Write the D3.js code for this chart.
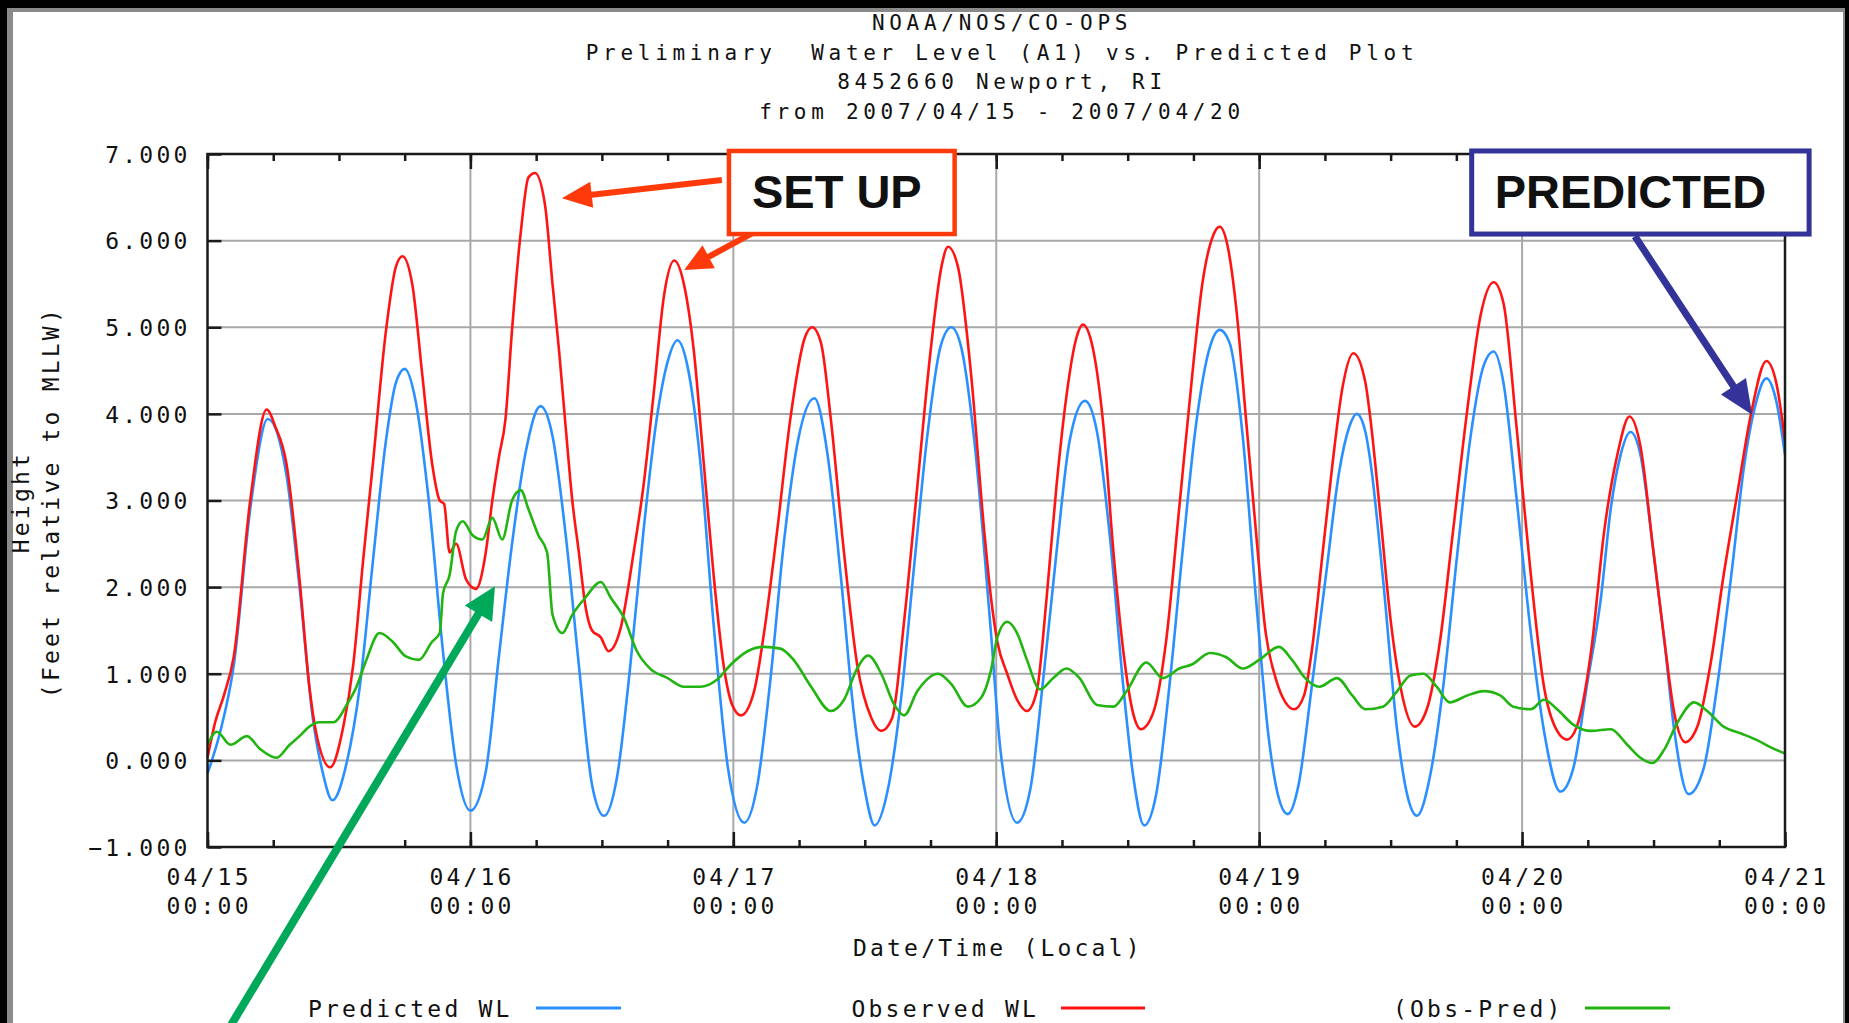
<!DOCTYPE html>
<html>
<head>
<meta charset="utf-8">
<script src="https://cdn.jsdelivr.net/npm/d3@7"></script>
<style>
  html, body { margin: 0; padding: 0; background: #000; overflow: hidden; }
  text { font-family: "DejaVu Sans Mono", "Liberation Mono", monospace; fill: #111; }
</style>
</head>
<body>
<div id="chart"></div>
<script>
// chart text
const titleLines = [
    "NOAA/NOS/CO-OPS",
    "Preliminary  Water Level (A1) vs. Predicted Plot",
    "8452660 Newport, RI",
    "from 2007/04/15 - 2007/04/20"
];
const yLabelLines = ["Height", "(Feet relative to MLLW)"];
const xLabel = "Date/Time (Local)";

// ticks
const yTicks = [-1, 0, 1, 2, 3, 4, 5, 6, 7];
const dayTicks = [0, 24, 48, 72, 96, 120, 144];
const dayLabels = ["04/15", "04/16", "04/17", "04/18", "04/19", "04/20", "04/21"];
const hourLabel = "00:00";

// series: [hours since 04/15 00:00, feet]
const predicted = [[0,-0.15],[1.2,0.35],[2.4,1.1],[3.9,2.9],[5.5,3.94],[7.2,3.3],[8.4,2.0],[9.6,0.5],[10.5,-0.13],[11.4,-0.46],
    [12.7,-0.03],[13.9,0.85],[15.1,2.3],[16.3,3.7],[17.2,4.36],[18.0,4.52],[19.0,4.15],[20.2,3.0],[21.5,1.25],[22.7,-0.05],
    [24.0,-0.58],[25.4,-0.13],[26.6,1.2],[27.8,2.5],[29.0,3.53],[30.4,4.09],[31.5,3.74],[32.7,2.6],[33.9,1.1],[35.1,-0.28],
    [36.2,-0.64],[37.4,-0.18],[38.6,1.1],[39.8,2.65],[41.0,3.94],[42.0,4.6],[42.9,4.85],[43.8,4.56],[45.0,3.43],[46.2,1.57],
    [47.5,-0.08],[49.0,-0.72],[50.2,-0.28],[51.4,0.95],[52.6,2.5],[53.9,3.69],[55.4,4.18],[56.6,3.53],[57.8,2.14],[59.0,0.54],
    [60.0,-0.34],[60.9,-0.75],[62.1,-0.34],[63.3,0.7],[64.5,2.24],[65.7,3.74],[66.9,4.77],[67.9,5.0],[68.8,4.77],[70.0,3.69],
    [71.5,1.5],[72.4,0.1],[73.9,-0.72],[75.1,-0.34],[76.3,0.95],[77.5,2.4],[78.7,3.69],[80.1,4.15],[81.2,3.79],[82.4,2.55],
    [83.6,0.85],[84.5,-0.18],[85.5,-0.75],[86.6,-0.39],[87.8,0.85],[89.0,2.4],[90.2,3.84],[91.5,4.77],[92.4,4.97],[93.3,4.82],
    [94.5,3.74],[95.7,1.88],[96.9,0.23],[97.8,-0.44],[98.6,-0.62],[99.6,-0.28],[100.8,0.85],[102.1,2.14],[103.3,3.33],[104.2,3.84],
    [104.9,4.0],[105.7,3.79],[106.1,3.5],[107.3,2.1],[108.6,0.34],[109.5,-0.39],[110.4,-0.64],[111.6,-0.18],[112.8,0.85],[114.1,2.4],
    [115.3,3.74],[116.5,4.56],[117.4,4.72],[118.3,4.36],[119.5,3.02],[120.8,1.47],[122.0,0.34],[123.5,-0.36],[124.7,-0.08],[125.9,0.85],
    [127.2,1.88],[128.1,2.91],[129.0,3.53],[129.9,3.79],[130.8,3.53],[132.0,2.4],[133.0,1.37],[133.9,0.34],[135.2,-0.39],[136.6,-0.08],
    [137.8,0.85],[139.1,2.14],[140.3,3.43],[141.2,4.05],[142.3,4.41],[143.2,4.15],[144,3.53]];

const observed = [[0,0.03],[0.7,0.44],[1.5,0.75],[2.4,1.2],[3.9,3.0],[5.4,4.05],[6.2,3.85],[7.2,3.43],[8.4,2.09],[9.3,0.85],
    [9.9,0.33],[11.2,-0.08],[12.4,0.39],[13.3,1.1],[14.2,2.3],[15.1,3.43],[16.3,4.97],[17.2,5.7],[17.8,5.82],[18.7,5.49],
    [19.6,4.46],[20.5,3.43],[21.2,3.0],[21.6,2.96],[22.1,2.4],[22.7,2.5],[23.6,2.09],[24.5,1.98],[25.4,2.4],[26.0,3.0],
    [26.6,3.5],[27.2,3.94],[27.8,4.97],[28.6,6.1],[29.3,6.73],[29.9,6.78],[30.8,6.42],[31.5,5.49],[32.1,4.72],[32.7,3.84],
    [33.3,3.0],[33.9,2.4],[34.5,1.78],[35.1,1.5],[35.9,1.42],[36.6,1.26],[37.7,1.52],[38.9,2.4],[39.8,3.17],[40.7,4.2],
    [41.7,5.39],[42.6,5.77],[43.5,5.49],[44.4,4.72],[45.3,3.43],[46.2,2.14],[47.1,1.11],[47.9,0.64],[48.7,0.52],[49.9,0.8],
    [50.8,1.47],[52.0,2.65],[53.2,3.94],[54.5,4.87],[55.2,5.0],[56.0,4.82],[56.9,3.94],[58.1,2.4],[59.3,1.11],[60.6,0.49],
    [61.5,0.34],[62.5,0.49],[63.6,1.62],[64.8,3.17],[66.0,4.72],[67.0,5.7],[67.6,5.93],[68.5,5.7],[69.7,4.46],[70.9,2.65],
    [71.5,1.9],[72.1,1.37],[73.0,1.0],[73.9,0.7],[74.8,0.57],[75.7,0.8],[76.6,1.88],[77.5,3.17],[78.4,4.2],[79.3,4.87],
    [79.9,5.03],[80.8,4.77],[81.8,3.84],[82.7,2.4],[83.6,1.26],[84.5,0.54],[85.2,0.36],[86.3,0.54],[87.5,1.37],[88.7,2.91],
    [89.9,4.46],[90.8,5.49],[91.8,6.06],[92.4,6.16],[93.1,5.95],[93.9,5.23],[94.8,3.94],[95.7,2.65],[96.6,1.47],[97.5,0.95],
    [98.4,0.67],[99.2,0.59],[100.1,0.75],[100.8,1.26],[101.8,2.4],[102.7,3.43],[103.6,4.3],[104.6,4.7],[105.7,4.36],[106.1,4.0],
    [107.0,2.91],[108.0,1.62],[108.9,0.85],[110.2,0.39],[111.3,0.59],[112.5,1.37],[113.7,2.65],[115.0,4.05],[116.2,5.13],[117.4,5.52],
    [118.3,5.28],[119.5,3.84],[120.8,2.14],[122.0,0.85],[123.2,0.34],[124.1,0.24],[125.0,0.39],[126.3,1.26],[127.5,2.65],[128.7,3.53],
    [129.8,3.97],[130.8,3.63],[132.0,2.4],[133.0,1.37],[133.9,0.54],[134.9,0.21],[136.0,0.39],[137.2,1.11],[138.4,2.14],[139.7,3.12],
    [140.9,4.0],[142.3,4.61],[143.2,4.36],[144,3.69]];

const residual = [[0,0.18],[0.85,0.33],[2.1,0.18],[3.6,0.28],[4.8,0.13],[6.3,0.03],[7.5,0.18],[8.4,0.28],[9.3,0.39],[10.2,0.44],
    [11.5,0.44],[12.7,0.64],[13.6,0.85],[14.5,1.16],[15.7,1.47],[16.9,1.37],[18.1,1.2],[19.3,1.16],[20.5,1.37],[21.2,1.47],
    [21.5,1.93],[22.1,2.14],[22.7,2.65],[23.3,2.76],[24.2,2.6],[25.1,2.55],[26.0,2.8],[26.9,2.55],[27.8,3.0],[28.6,3.12],
    [29.3,2.9],[30.2,2.6],[31.0,2.4],[31.5,1.68],[32.4,1.47],[33.3,1.68],[34.5,1.88],[35.9,2.06],[36.8,1.88],[38.0,1.65],
    [39.2,1.26],[40.4,1.06],[42.0,0.95],[43.5,0.85],[45.0,0.85],[46.5,0.93],[47.8,1.11],[49.3,1.26],[50.8,1.31],[52.3,1.29],
    [53.5,1.16],[55.1,0.85],[56.9,0.57],[58.1,0.7],[59.3,1.06],[60.3,1.21],[61.5,1.0],[62.7,0.64],[63.6,0.52],[64.8,0.8],
    [66.7,1.0],[67.9,0.88],[69.4,0.62],[70.6,0.72],[71.5,1.03],[72.1,1.42],[73.0,1.6],[73.9,1.47],[74.8,1.16],[76.0,0.82],
    [77.2,0.95],[78.4,1.06],[79.6,0.95],[81.2,0.64],[82.7,0.62],[83.9,0.8],[85.7,1.13],[87.2,0.95],[88.7,1.06],[89.9,1.11],
    [91.5,1.24],[93.0,1.19],[94.5,1.06],[96.0,1.16],[97.8,1.31],[99.0,1.16],[100.2,0.95],[101.5,0.85],[103.1,0.95],[104.5,0.75],
    [105.7,0.59],[107.3,0.62],[108.6,0.8],[109.8,0.98],[111.0,1.0],[112.2,0.85],[113.4,0.67],[115.0,0.75],[116.5,0.8],[118.0,0.75],
    [119.2,0.62],[120.8,0.59],[122.0,0.7],[123.2,0.59],[124.7,0.41],[126.3,0.34],[128.1,0.36],[129.6,0.18],[130.8,0.03],[131.9,-0.03],
    [133.0,0.13],[134.2,0.44],[135.7,0.67],[136.9,0.57],[138.4,0.39],[140.0,0.31],[141.5,0.23],[142.7,0.15],[144,0.08]];

const seriesNames = ["Predicted WL", "Observed WL", "(Obs-Pred)"];

const width = 1849, height = 1023;
const plot = { left: 207.5, right: 1785, top: 154, bottom: 847 };
const colors = { pred: "#2a90ff", obs: "#ff1414", resid: "#22b512" };

const svg = d3.select("#chart").append("svg")
    .attr("width", width)
    .attr("height", height);

// black / gray frame around the page
svg.append("rect").attr("width", width).attr("height", height).attr("fill", "#000");
svg.append("rect").attr("x", 7).attr("y", 8).attr("width", 1838).attr("height", height).attr("fill", "#8a8a8a");
svg.append("rect").attr("x", 13).attr("y", 12).attr("width", 1830).attr("height", height).attr("fill", "#fff");

const x = d3.scaleLinear().domain([0, 144]).range([plot.left, plot.right]);
const y = d3.scaleLinear().domain([-1, 7]).range([plot.bottom, plot.top]);

function monoText(sel, size, spacing) {
    return sel.style("font-size", size + "px").style("letter-spacing", spacing + "px").style("white-space", "pre");
}

// title
const midX = 1000;
titleLines.forEach((line, i) => {
    monoText(svg.append("text"), 21, 4.7)
        .attr("x", midX + 2)
        .attr("y", 30 + i * 29.5)
        .attr("text-anchor", "middle")
        .text(line);
});

// grid
const grid = svg.append("g");
grid.selectAll(".hgrid")
    .data(yTicks.filter(d => d > -1 && d < 7))
    .join("line")
    .attr("x1", plot.left).attr("x2", plot.right)
    .attr("y1", d => y(d)).attr("y2", d => y(d))
    .attr("stroke", "#a8a8a8").attr("stroke-width", 2);
grid.selectAll(".vgrid")
    .data(dayTicks.slice(1, -1))
    .join("line")
    .attr("x1", d => x(d)).attr("x2", d => x(d))
    .attr("y1", plot.top).attr("y2", plot.bottom)
    .attr("stroke", "#a8a8a8").attr("stroke-width", 2);

// series
const line = d3.line()
    .x(d => x(d[0]))
    .y(d => y(d[1]))
    .curve(d3.curveMonotoneX);

[[predicted, colors.pred], [observed, colors.obs], [residual, colors.resid]].forEach(([data, c]) => {
    svg.append("path")
        .datum(data)
        .attr("fill", "none")
        .attr("stroke", c)
        .attr("stroke-width", 2.6)
        .attr("stroke-linejoin", "round")
        .attr("d", line);
});

// plot border
svg.append("rect")
    .attr("x", plot.left).attr("y", plot.top)
    .attr("width", plot.right - plot.left).attr("height", plot.bottom - plot.top)
    .attr("fill", "none").attr("stroke", "#1a1a1a").attr("stroke-width", 2.5);

// y axis
const yAxis = svg.append("g")
    .attr("transform", `translate(${plot.left},0)`)
    .call(d3.axisLeft(y).tickValues(yTicks).tickFormat(d3.format(".3f"))
        .tickSizeInner(-14).tickSizeOuter(0).tickPadding(17));
yAxis.select(".domain").remove();
yAxis.selectAll(".tick line").attr("stroke", "#1a1a1a").attr("stroke-width", 2.5);
monoText(yAxis.selectAll(".tick text"), 23, 3.2)
    .attr("fill", "#111").attr("dy", "0.36em");
yAxis.attr("font-family", null).attr("font-size", null);

// x axis ticks, bottom and top
const sixHours = d3.range(0, 145, 6);
[[d3.axisBottom, plot.bottom], [d3.axisTop, plot.top]].forEach(([axisFn, ypos]) => {
    const gMinor = svg.append("g").attr("transform", `translate(0,${ypos})`)
        .call(axisFn(x).tickValues(sixHours).tickFormat("").tickSizeInner(-7).tickSizeOuter(0));
    gMinor.select(".domain").remove();
    gMinor.selectAll(".tick line").attr("stroke", "#1a1a1a").attr("stroke-width", 2.5);
    const gMajor = svg.append("g").attr("transform", `translate(0,${ypos})`)
        .call(axisFn(x).tickValues(dayTicks).tickFormat("").tickSizeInner(-15).tickSizeOuter(0));
    gMajor.select(".domain").remove();
    gMajor.selectAll(".tick line").attr("stroke", "#1a1a1a").attr("stroke-width", 2.5);
});

// x tick labels (two lines)
const xLab = svg.append("g");
dayTicks.forEach((t, i) => {
    const txt = monoText(xLab.append("text"), 23, 3.2)
        .attr("text-anchor", "middle");
    txt.append("tspan").attr("x", x(t) + 1.6).attr("y", 885).text(dayLabels[i]);
    txt.append("tspan").attr("x", x(t) + 1.6).attr("y", 914).text(hourLabel);
});

// axis titles
monoText(svg.append("text"), 23, 3.2)
    .attr("x", (plot.left + plot.right) / 2 + 1.6)
    .attr("y", 956)
    .attr("text-anchor", "middle")
    .text(xLabel);

yLabelLines.forEach((lbl, i) => {
    const cx = [21, 51][i];
    monoText(svg.append("text"), 23, 3.2)
        .attr("transform", `translate(${cx + 8.4},${(plot.top + plot.bottom) / 2 + 1.6}) rotate(-90)`)
        .attr("text-anchor", "middle")
        .text(lbl);
});

// legend
const legendX = [308, 851.5, 1393];
const legendLine = [[536, 621], [1061, 1145], [1585, 1670]];
const legendColors = [colors.pred, colors.obs, colors.resid];
seriesNames.forEach((name, i) => {
    monoText(svg.append("text"), 23, 3.2)
        .attr("x", legendX[i]).attr("y", 1017)
        .text(name);
    svg.append("line")
        .attr("x1", legendLine[i][0]).attr("x2", legendLine[i][1])
        .attr("y1", 1008).attr("y2", 1008)
        .attr("stroke", legendColors[i]).attr("stroke-width", 3);
});

// annotations, placed in data space (hours, feet)
function arrow(g, from, to, color, w, headLen, headW) {
    const p0 = [x(from[0]), y(from[1])], p1 = [x(to[0]), y(to[1])];
    const dx = p1[0] - p0[0], dy = p1[1] - p0[1];
    const len = Math.hypot(dx, dy);
    const ux = dx / len, uy = dy / len;
    const bx = p1[0] - ux * headLen, by = p1[1] - uy * headLen;
    g.append("line")
        .attr("x1", p0[0]).attr("y1", p0[1])
        .attr("x2", bx + ux * 2).attr("y2", by + uy * 2)
        .attr("stroke", color).attr("stroke-width", w);
    g.append("polygon")
        .attr("points", [p1, [bx - uy * headW / 2, by + ux * headW / 2], [bx + uy * headW / 2, by - ux * headW / 2]]
            .map(p => p.join(",")).join(" "))
        .attr("fill", color);
}

function callout(g, label, box, textAt, color, strokeW) {
    g.append("rect")
        .attr("x", x(box[0])).attr("y", y(box[2]))
        .attr("width", x(box[1]) - x(box[0])).attr("height", y(box[3]) - y(box[2]))
        .attr("fill", "#fff").attr("stroke", color).attr("stroke-width", strokeW);
    g.append("text")
        .attr("x", x(textAt[0])).attr("y", y(textAt[1]))
        .style("font-family", "'Liberation Sans', Arial, sans-serif")
        .style("font-weight", "bold")
        .style("font-size", "47px")
        .attr("fill", color)
        .text(label);
}

const notes = svg.append("g");
const setUpColor = "#ff3a0a", predColor = "#333399", surgeColor = "#00a859";

arrow(notes, [46.95, 6.70], [32.35, 6.49], setUpColor, 6, 30, 26);
arrow(notes, [52.3, 6.26], [43.5, 5.66], setUpColor, 6, 28, 26);
callout(notes, "SET UP", [47.6, 68.2, 7.035, 6.076], [49.7, 6.376], setUpColor, 4.5);

arrow(notes, [130.3, 6.05], [141.0, 3.99], predColor, 7, 34, 30);
callout(notes, "PREDICTED", [115.4, 146.2, 7.035, 6.076], [117.5, 6.376], predColor, 5);

arrow(notes, [1.32, -3.23], [26.24, 2.01], surgeColor, 8, 32, 32);
</script>
</body>
</html>
